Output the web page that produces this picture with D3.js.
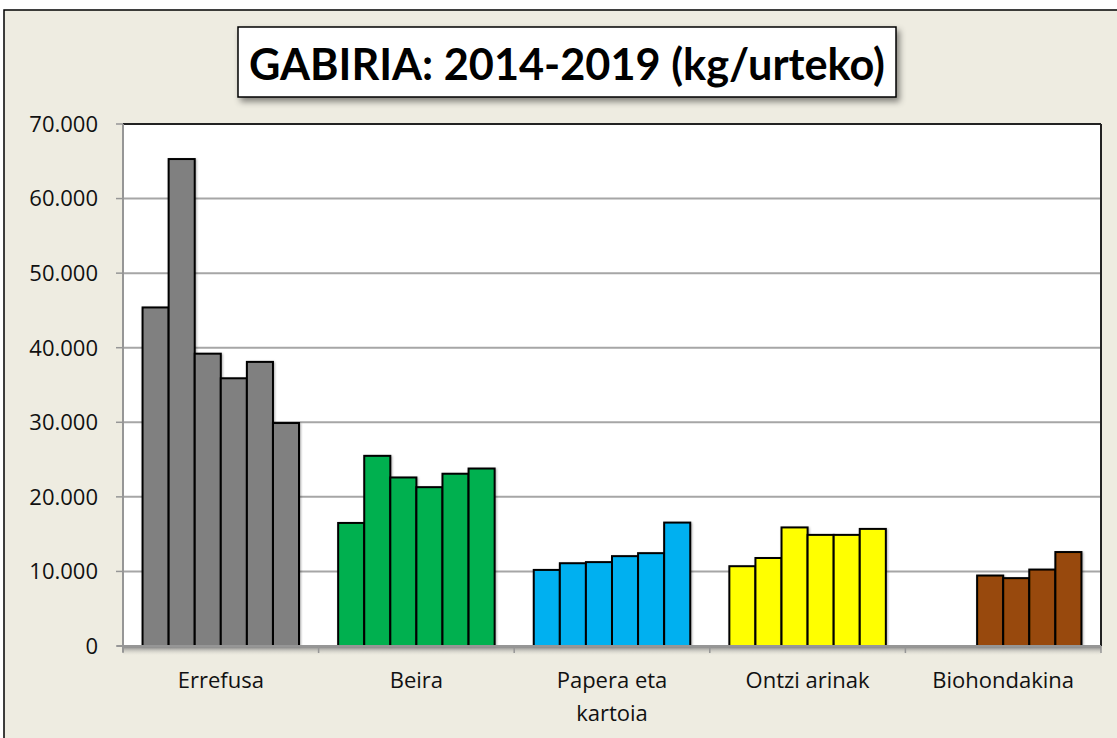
<!DOCTYPE html>
<html>
<head>
<meta charset="utf-8">
<script src="https://cdn.jsdelivr.net/npm/d3@7"></script>
<style>
  body { margin: 0; background: #fff; }
  svg { display: block; }
</style>
</head>
<body>
<div id="chart"></div>
<script>
// waste categories and years
const categories = ["Errefusa", "Beira", "Papera eta kartoia", "Ontzi arinak", "Biohondakina"];
const years = ["2014", "2015", "2016", "2017", "2018", "2019"];
const colors = ["#808080", "#00B050", "#00B0F0", "#FFFF00", "#984807"];

// kg per year, null = no data
const errefusa = [45400, 65300, 39200, 35900, 38100, 29900];
const beira = [16500, 25500, 22600, 21300, 23100, 23800];
const papera = [10200, 11100, 11250, 12050, 12450, 16550];
const ontzi = [10700, 11800, 15900, 14900, 14900, 15700];
const bio = [null, null, 9450, 9100, 10250, 12600];

const yTicks = [0, 10000, 20000, 30000, 40000, 50000, 60000, 70000];

const series = [errefusa, beira, papera, ontzi, bio];

const W = 1117, H = 738;
const margin = { left: 123, right: 16, top: 124, bottom: 92 };

const svg = d3.select("#chart").append("svg")
    .attr("width", W)
    .attr("height", H);

const defs = svg.append("defs");
const blur = defs.append("filter").attr("id", "shadow")
    .attr("x", "-10%").attr("y", "-20%").attr("width", "130%").attr("height", "160%");
blur.append("feDropShadow").attr("dx", 3).attr("dy", 4).attr("stdDeviation", 3)
    .attr("flood-color", "#000").attr("flood-opacity", 0.45);

const barShadow = defs.append("filter").attr("id", "barShadow")
    .attr("x", "-20%").attr("y", "-5%").attr("width", "150%").attr("height", "115%");
barShadow.append("feDropShadow").attr("dx", 1).attr("dy", 1).attr("stdDeviation", 1)
    .attr("flood-color", "#000").attr("flood-opacity", 0.3);

const axisGrad = defs.append("linearGradient").attr("id", "axisShade")
    .attr("x1", 0).attr("y1", 0).attr("x2", 0).attr("y2", 1);
axisGrad.append("stop").attr("offset", "0%").attr("stop-color", "#8a8a8a");
axisGrad.append("stop").attr("offset", "100%").attr("stop-color", "#eeece1").attr("stop-opacity", 0);

// chart background
svg.append("rect")
    .attr("x", 4).attr("y", 10)
    .attr("width", W + 10).attr("height", H + 10)
    .attr("fill", "#EEECE1")
    .attr("stroke", "#000")
    .attr("stroke-width", 1.5);

const x0 = d3.scaleBand()
    .domain(categories)
    .range([margin.left, W - margin.right])
    .paddingInner(0)
    .paddingOuter(0);

const x1 = d3.scaleBand()
    .domain(years)
    .range([0, x0.bandwidth()])
    .paddingOuter(0.75)
    .paddingInner(0);

const y = d3.scaleLinear()
    .domain([0, 70000])
    .range([H - margin.bottom, margin.top]);

// plot area
svg.append("rect")
    .attr("x", margin.left).attr("y", margin.top)
    .attr("width", W - margin.right - margin.left)
    .attr("height", y(0) - margin.top)
    .attr("fill", "#fff");

// gridlines
svg.append("g")
    .selectAll("line")
    .data(yTicks.filter(d => d > 0))
    .join("line")
    .attr("x1", margin.left).attr("x2", W - margin.right)
    .attr("y1", d => y(d)).attr("y2", d => y(d))
    .attr("stroke", d => d === 70000 ? "#222" : "#a6a6a6")
    .attr("stroke-width", 2);

// right border of plot
svg.append("line")
    .attr("x1", W - margin.right).attr("x2", W - margin.right)
    .attr("y1", margin.top).attr("y2", y(0))
    .attr("stroke", "#222").attr("stroke-width", 2);

// bars
const groups = svg.append("g")
    .selectAll("g")
    .data(categories)
    .join("g")
    .attr("transform", d => `translate(${x0(d)},0)`);

groups.selectAll("rect")
    .data((c, i) => years.map((yr, j) => ({ yr, v: series[i][j], color: colors[i] })).filter(d => d.v != null))
    .join("rect")
    .attr("x", d => x1(d.yr))
    .attr("y", d => y(d.v))
    .attr("width", x1.bandwidth())
    .attr("height", d => y(0) - y(d.v))
    .attr("fill", d => d.color)
    .attr("stroke", "#000")
    .attr("stroke-width", 2)
    .attr("filter", "url(#barShadow)");

// x axis shadow + line
svg.append("rect")
    .attr("x", margin.left).attr("y", y(0) + 1)
    .attr("width", W - margin.right - margin.left)
    .attr("height", 9)
    .attr("fill", "url(#axisShade)");

svg.append("line")
    .attr("x1", margin.left - 6).attr("x2", W - margin.right)
    .attr("y1", y(0)).attr("y2", y(0))
    .attr("stroke", "#969696").attr("stroke-width", 2);

svg.append("g")
    .selectAll("line")
    .data(categories.concat(["end"]))
    .join("line")
    .attr("x1", d => d === "end" ? W - margin.right : x0(d))
    .attr("x2", d => d === "end" ? W - margin.right : x0(d))
    .attr("y1", y(0)).attr("y2", y(0) + 7)
    .attr("stroke", "#969696").attr("stroke-width", 1.5);

// y axis
svg.append("line")
    .attr("x1", margin.left).attr("x2", margin.left)
    .attr("y1", margin.top).attr("y2", y(0) + 6)
    .attr("stroke", "#969696").attr("stroke-width", 2);

svg.append("g")
    .selectAll("line")
    .data(yTicks)
    .join("line")
    .attr("x1", margin.left - 7).attr("x2", margin.left)
    .attr("y1", d => y(d)).attr("y2", d => y(d))
    .attr("stroke", "#969696").attr("stroke-width", 1.5);

const fmt = d => d3.format(",")(d).replace(/,/g, ".");

svg.append("g")
    .selectAll("text")
    .data(yTicks)
    .join("text")
    .attr("x", margin.left - 25)
    .attr("y", d => y(d))
    .attr("dy", "0.36em")
    .attr("text-anchor", "end")
    .attr("font-family", "'Open Sans', sans-serif")
    .attr("font-size", 22)
    .attr("fill", "#111")
    .text(fmt);

// category labels
const catLabels = svg.append("g")
    .selectAll("text")
    .data(categories)
    .join("text")
    .attr("x", d => x0(d) + x0.bandwidth() / 2)
    .attr("y", 688)
    .attr("text-anchor", "middle")
    .attr("font-family", "'Open Sans', sans-serif")
    .attr("font-size", 22)
    .attr("fill", "#111");

catLabels.each(function(d) {
    const t = d3.select(this);
    const lines = d === "Papera eta kartoia" ? ["Papera eta", "kartoia"] : [d];
    lines.forEach((l, i) => {
        t.append("tspan")
            .attr("x", x0(d) + x0.bandwidth() / 2)
            .attr("dy", i === 0 ? 0 : 33)
            .text(l);
    });
});

// title
svg.append("rect")
    .attr("x", 238).attr("y", 27)
    .attr("width", 658).attr("height", 70)
    .attr("fill", "#fff")
    .attr("stroke", "#000")
    .attr("stroke-width", 1.5)
    .attr("filter", "url(#shadow)");

svg.append("text")
    .attr("x", 567).attr("y", 80)
    .attr("text-anchor", "middle")
    .attr("font-family", "Lato, sans-serif")
    .attr("font-weight", "bold")
    .attr("font-size", 44)
    .attr("textLength", 636)
    .attr("lengthAdjust", "spacingAndGlyphs")
    .attr("fill", "#000")
    .text("GABIRIA: 2014-2019 (kg/urteko)");
</script>
</body>
</html>
